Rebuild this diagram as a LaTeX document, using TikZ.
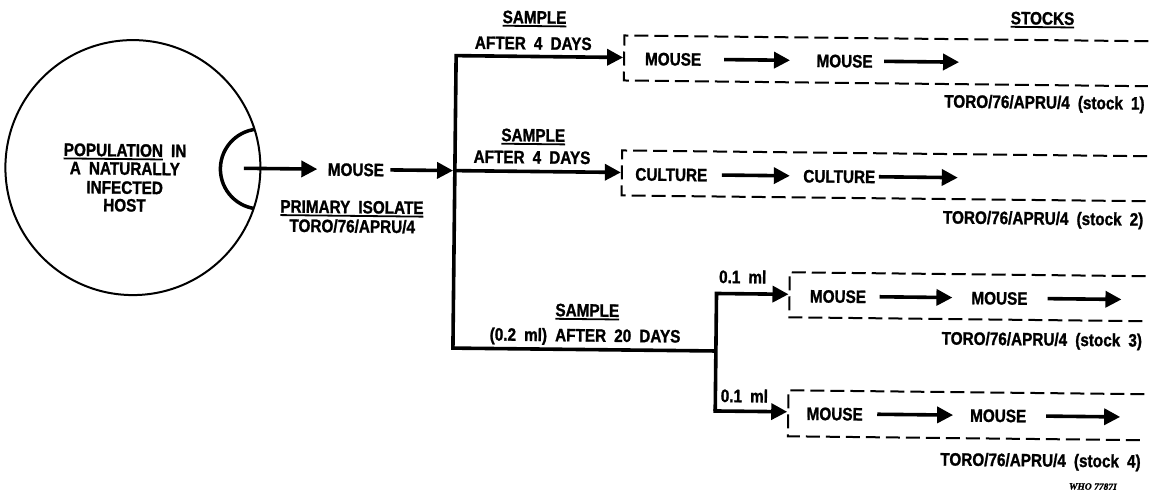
\documentclass[tikz,border=0pt]{standalone}
\usepackage{fontspec}
\usetikzlibrary{arrows.meta}
\newfontfamily\labfont[FakeStretch=0.85,WordSpace=1.9,FakeBold=1.2]{Liberation Sans}
\newfontfamily\whofont[FakeBold=1.2]{Liberation Serif}
\newcommand\ulin[1]{\vtop{\hbox{#1}\kern1.5pt\hrule height 1.8pt}}
\tikzset{
  flow/.style={line width=3.6pt, -{Triangle[length=16pt,width=16pt]}},
  stockbox/.style={line width=2pt, dash pattern=on 14pt off 6pt},
  lbl/.style={inner sep=0pt, outer sep=0pt, anchor=base, font=\labfont\bfseries\fontsize{18}{19}\selectfont},
  word/.style={inner sep=0pt, outer sep=0pt, text height=12.9pt, text depth=0pt, font=\labfont\bfseries\fontsize{18}{19}\selectfont},
}
\begin{document}
\begin{tikzpicture}[x=1pt,y=-1pt]
\fill[white] (0,0) rectangle (1159,494);
\useasboundingbox (0,0) rectangle (1159,494);
\begin{scope}[rotate around={-0.63:(580,250)}, transform shape]
  % host circle
  \node[draw, circle, line width=2pt, minimum size=255pt, inner sep=0pt, outer sep=0pt] (host) at (132,172.5) {};
  \begin{scope}
    \clip (host.center) circle[radius=127.5pt];
    \draw[line width=3.5pt] (host.east) circle[radius=40pt];
  \end{scope}
  \node[lbl] (h1) at (124,161.5) {\ulin{POPULATION} IN};
  \node[lbl] (h2) at (124,179.8) {A NATURALLY};
  \node[lbl] (h3) at (124,198.8) {INFECTED};
  \node[lbl] (h4) at (124,216.5) {HOST};

  % primary isolate
  \coordinate (s0) at (243,172);
  \node[word] (m0) at (355,172) {MOUSE};
  \coordinate (J0) at (454,172);
  \draw[flow, shorten >=10.5pt] (s0) -- (m0);
  \draw[flow, shorten <=6.5pt, shorten >=1.8pt] (m0) -- (J0);
  \node[lbl] (p1) at (351.5,215.8) {\ulin{PRIMARY ISOLATE}};
  \node[lbl] (p2) at (352,235) {TORO/76/APRU/4};

  % trunk and branches
  \coordinate (T1) at (454,57);
  \coordinate (T3) at (454,349.5);
  \coordinate (J3) at (717,349.5);
  \coordinate (c3) at (717,292);
  \coordinate (c4) at (717,409.5);
  \coordinate (b1) at (622,57);
  \coordinate (b2) at (621,172);
  \coordinate (b3) at (790,292);
  \coordinate (b4) at (790,409.5);
  \draw[flow, shorten >=1pt] (J3) -- (T3) -- (T1) -- (b1);
  \draw[flow, shorten >=1pt] (J0) -- (b2);
  \draw[flow, shorten >=1pt] (c4) -- (c3) -- (b3);
  \draw[flow, shorten >=1pt, line cap=rect] (c4) -- (b4);

  % stock boxes
  \draw[stockbox] (1146,35) -- (622,35) -- (622,80) -- (1146,80);
  \draw[stockbox] (1146,150) -- (621,150) -- (621,195) -- (1146,195);
  \draw[stockbox] (1146,270) -- (790,270) -- (790,315) -- (1146,315);
  \draw[stockbox] (1146,388) -- (790,388) -- (790,434) -- (1146,434);

  % labels
  \node[lbl] (s1) at (532,24) {\ulin{SAMPLE}};
  \node[lbl] (a1) at (531,50) {AFTER 4 DAYS};
  \node[lbl] (s2) at (532,142) {\ulin{SAMPLE}};
  \node[lbl] (a2) at (531,164) {AFTER 4 DAYS};
  \node[lbl] (s3) at (588,316.5) {\ulin{SAMPLE}};
  \node[lbl] (a3) at (586,341.5) {(0.2 ml) AFTER 20 DAYS};
  \node[lbl] (q3) at (743,281.5) {0.1 ml};
  \node[lbl] (q4) at (746,400.5) {0.1 ml};
  \node[lbl] (stk) at (1040,19.5) {\ulin{STOCKS}};
  \node[lbl, anchor=base east] (t1) at (1143,103.5) {TORO/76/APRU/4 (stock 1)};
  \node[lbl, anchor=base east] (t2) at (1143,219.5) {TORO/76/APRU/4 (stock 2)};
  \node[lbl, anchor=base east] (t3) at (1143,340.5) {TORO/76/APRU/4 (stock 3)};
  \node[lbl, anchor=base east] (t4) at (1143,461.5) {TORO/76/APRU/4 (stock 4)};
  \node[inner sep=0pt, anchor=base, font=\whofont\bfseries\itshape\fontsize{9.5}{11}\selectfont] (who) at (1095.5,484) {WHO 7787I};

  % box contents
  \node[word] (n11) at (671,58) {MOUSE};
  \node[word] (n12) at (842.5,58) {MOUSE};
  \coordinate (e1) at (957,58);
  \draw[flow, shorten <=23pt, shorten >=26.5pt] (n11) -- (n12);
  \draw[flow, shorten <=11.5pt] (n12) -- (e1);

  \node[word] (c21) at (670.5,173.5) {CULTURE};
  \node[word] (c22) at (838.5,173.5) {CULTURE};
  \coordinate (e2) at (957,173.5);
  \draw[flow, shorten <=14.5pt, shorten >=13.5pt] (c21) -- (c22);
  \draw[flow, shorten <=3.5pt] (c22) -- (e2);

  \node[word] (n31) at (838.5,293.5) {MOUSE};
  \node[word] (n32) at (1000,293.5) {MOUSE};
  \coordinate (e3) at (1122,293.5);
  \draw[flow, shorten <=13.5pt, shorten >=19pt] (n31) -- (n32);
  \draw[flow, shorten <=20pt] (n32) -- (e3);

  \node[word] (n41) at (836.5,411) {MOUSE};
  \node[word] (n42) at (1000,411) {MOUSE};
  \coordinate (e4) at (1122,411);
  \draw[flow, shorten <=14.5pt, shorten >=17pt] (n41) -- (n42);
  \draw[flow, shorten <=20pt] (n42) -- (e4);
\end{scope}
\end{tikzpicture}
\end{document}
